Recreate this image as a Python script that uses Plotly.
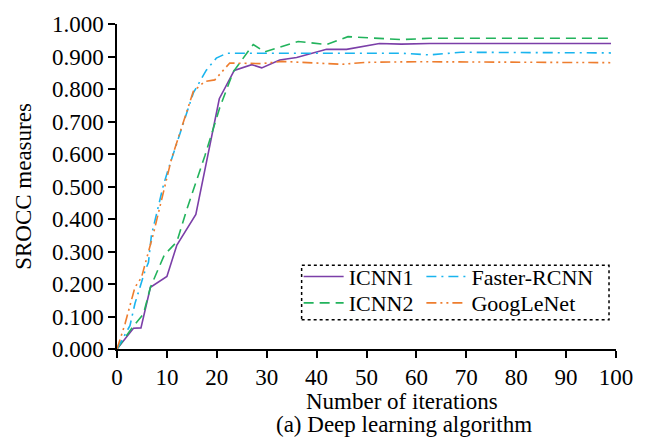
import plotly.graph_objects as go

icnn1_x = [0, 3.3, 4.8, 6.7, 10, 12, 15.8, 20.5, 23.5, 27, 29, 32.6, 36, 42, 46, 52.6, 57, 62.6, 99]
icnn1_y = [0, 0.064, 0.065, 0.19, 0.223, 0.32, 0.414, 0.77, 0.857, 0.875, 0.865, 0.889, 0.897, 0.922, 0.922, 0.94, 0.938, 0.94, 0.94]

icnn2_x = [0, 3, 5.3, 6.7, 9.5, 12, 14, 17.6, 20.6, 23.3, 27.3, 29.6, 36.3, 42, 46.3, 57, 62.6, 99]
icnn2_y = [0, 0.065, 0.108, 0.19, 0.29, 0.33, 0.43, 0.594, 0.743, 0.853, 0.937, 0.914, 0.946, 0.937, 0.961, 0.952, 0.956, 0.956]

frcnn_x = [0, 2.6, 3.6, 5.6, 6.3, 6.9, 9.3, 10.5, 15.3, 17.9, 19.9, 22, 57, 62.6, 69, 99]
frcnn_y = [0, 0.072, 0.14, 0.24, 0.266, 0.35, 0.504, 0.564, 0.788, 0.858, 0.895, 0.91, 0.91, 0.905, 0.913, 0.911]

goog_x = [0, 1.6, 3.6, 4.9, 7.3, 10.9, 15.3, 17.6, 19.6, 21.6, 22.6, 29, 33, 45, 50, 60, 99]
goog_y = [0, 0.077, 0.19, 0.22, 0.355, 0.584, 0.793, 0.823, 0.828, 0.863, 0.88, 0.878, 0.885, 0.876, 0.882, 0.884, 0.881]

x_title = "Number of iterations"
y_title = "SROCC measures"
caption = "(a) Deep learning algorithm"

FONT = "Liberation Serif"
FS = 23
LFS = 22

fig = go.Figure()
fig.add_trace(go.Scatter(x=icnn1_x, y=icnn1_y, mode="lines", name="ICNN1", legend="legend",
                         line=dict(color="#7B3FA8", width=1.6, dash="solid")))
fig.add_trace(go.Scatter(x=icnn2_x, y=icnn2_y, mode="lines", name="ICNN2", legend="legend2",
                         line=dict(color="#22B35C", width=1.6, dash="10px,6px")))
fig.add_trace(go.Scatter(x=frcnn_x, y=frcnn_y, mode="lines", name="Faster-RCNN", legend="legend3",
                         line=dict(color="#19B4EE", width=1.6, dash="10px,5px,2px,5px")))
fig.add_trace(go.Scatter(x=goog_x, y=goog_y, mode="lines", name="GoogLeNet", legend="legend4",
                         line=dict(color="#EE7D2E", width=1.6, dash="10px,4px,2px,4px,2px,4px")))

leg_common = dict(orientation="v", xanchor="left", yanchor="top",
                  bgcolor="rgba(0,0,0,0)", borderwidth=0, itemwidth=40,
                  tracegroupgap=0,
                  font=dict(family=FONT, size=LFS, color="black"))

fig.update_layout(
    width=645, height=437,
    margin=dict(l=117, r=27, t=15, b=88),
    paper_bgcolor="white", plot_bgcolor="white",
    font=dict(family=FONT, size=FS, color="black"),
    showlegend=True,
    legend=dict(x=0.364, y=0.287, **leg_common),
    legend2=dict(x=0.364, y=0.206, **leg_common),
    legend3=dict(x=0.61, y=0.287, **leg_common),
    legend4=dict(x=0.61, y=0.206, **leg_common),
    xaxis=dict(range=[0, 100], dtick=10, tick0=0, showgrid=False, zeroline=False,
               showline=True, linecolor="black", linewidth=1.5,
               ticks="outside", ticklen=7, tickwidth=1.5, tickcolor="black",
               tickfont=dict(family=FONT, size=FS)),
    yaxis=dict(range=[0, 1.0], dtick=0.1, tick0=0, tickformat=".3f", showgrid=False,
               zeroline=False, showline=True, linecolor="black", linewidth=1.5,
               ticks="outside", ticklen=7, tickwidth=1.5, tickcolor="black",
               tickfont=dict(family=FONT, size=FS),
               title=dict(text=y_title, standoff=14,
                          font=dict(family=FONT, size=FS))),
)

fig.add_annotation(text=x_title, xref="paper", yref="paper",
                   x=0.572, y=-0.118, xanchor="center", yanchor="top", showarrow=False,
                   font=dict(family=FONT, size=FS, color="black"))
fig.add_annotation(text=caption, xref="paper", yref="paper",
                   x=0.575, y=-0.188, xanchor="center", yanchor="top", showarrow=False,
                   font=dict(family=FONT, size=FS, color="black"))

fig.add_shape(type="rect", xref="paper", yref="paper",
              x0=0.37, x1=0.986, y0=0.09, y1=0.2575,
              line=dict(color="black", width=1.5, dash="dot"), fillcolor="rgba(0,0,0,0)")

fig.write_html("out.html")
